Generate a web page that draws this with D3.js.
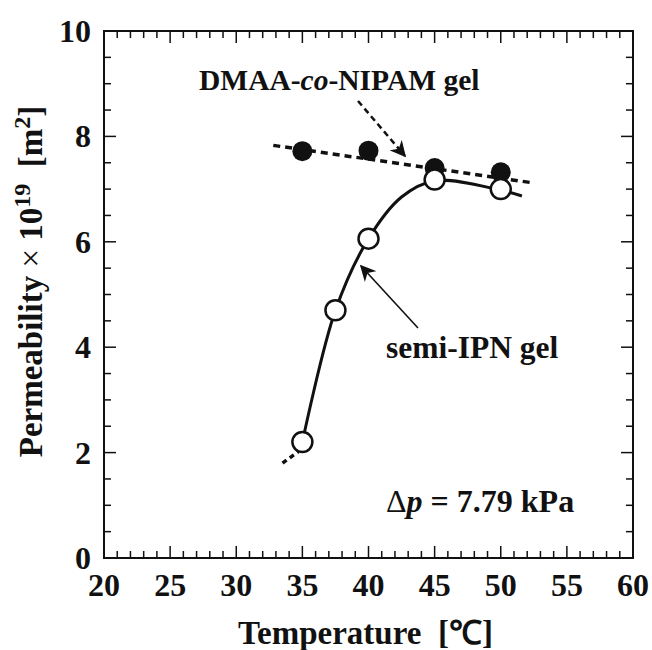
<!DOCTYPE html>
<html>
<head>
<meta charset="utf-8">
<script src="https://cdn.jsdelivr.net/npm/d3@7"></script>
<style>
  body { margin: 0; background: #fff; }
  text { font-family: "Liberation Serif", "Times New Roman", serif; font-weight: bold; fill: #111; white-space: pre; }
</style>
</head>
<body>
<div id="chart"></div>
<script>
// Data
var copolyTemp = [35, 40, 45, 50];
var copolyPerm = [7.72, 7.73, 7.40, 7.32];
var semiTemp = [35, 37.5, 40, 45, 50];
var semiPerm = [2.2, 4.7, 6.06, 7.18, 7.0];
// dashed linear fit for the copolymer gel
var fitLine = [[32.8, 7.83], [52.4, 7.12]];
// smooth guide curve for semi-IPN gel
var semiCurve = [[35, 2.2], [37.5, 4.7], [40, 6.06], [42.5, 6.85], [45, 7.16], [50, 6.98], [51.6, 6.87]];
var semiCurveTail = [[33.5, 1.8], [34.7, 2.02]];
var xTicks = [20, 25, 30, 35, 40, 45, 50, 55, 60];
var yTicks = [0, 2, 4, 6, 8, 10];

var svgWidth = 652, svgHeight = 650;
var margin = { top: 31, right: 19, bottom: 92, left: 104 };
var width = svgWidth - margin.left - margin.right;
var height = svgHeight - margin.top - margin.bottom;

var svg = d3.select("#chart").append("svg")
  .attr("width", svgWidth)
  .attr("height", svgHeight);

svg.append("defs").append("marker")
  .attr("id", "head")
  .attr("viewBox", "0 0 10 10")
  .attr("refX", 9).attr("refY", 5)
  .attr("markerWidth", 16).attr("markerHeight", 16)
  .attr("markerUnits", "userSpaceOnUse")
  .attr("orient", "auto")
  .append("path")
  .attr("d", "M0,0 L10,5 L0,10 L3,5 Z")
  .attr("fill", "#111");

var g = svg.append("g").attr("transform", `translate(${margin.left}, ${margin.top})`);

var x = d3.scaleLinear().domain([20, 60]).range([0, width]);
var y = d3.scaleLinear().domain([0, 10]).range([height, 0]);

// ticks on all four sides, pointing inward
var xMinor = d3.range(20, 61, 1);
var yMinor = d3.range(0, 10.01, 0.5);
function tickLen(v, step) { return Math.abs(v / step - Math.round(v / step)) < 1e-6 ? 12 : 7; }

g.selectAll(".xt").data(xMinor).enter().append("line")
  .attr("x1", d => x(d)).attr("x2", d => x(d))
  .attr("y1", height).attr("y2", d => height - tickLen(d, 5))
  .attr("stroke", "#111").attr("stroke-width", 1.5);
g.selectAll(".xtt").data(xMinor).enter().append("line")
  .attr("x1", d => x(d)).attr("x2", d => x(d))
  .attr("y1", 0).attr("y2", d => tickLen(d, 5))
  .attr("stroke", "#111").attr("stroke-width", 1.5);
g.selectAll(".yt").data(yMinor).enter().append("line")
  .attr("y1", d => y(d)).attr("y2", d => y(d))
  .attr("x1", 0).attr("x2", d => tickLen(d, 2))
  .attr("stroke", "#111").attr("stroke-width", 1.5);
g.selectAll(".ytr").data(yMinor).enter().append("line")
  .attr("y1", d => y(d)).attr("y2", d => y(d))
  .attr("x1", width).attr("x2", d => width - tickLen(d, 2))
  .attr("stroke", "#111").attr("stroke-width", 1.5);

g.append("rect")
  .attr("width", width).attr("height", height)
  .attr("fill", "none").attr("stroke", "#111").attr("stroke-width", 2);

// tick labels
g.selectAll(".xl").data(xTicks).enter().append("text")
  .attr("x", d => x(d)).attr("y", height + 38)
  .attr("text-anchor", "middle")
  .style("font-size", "32px")
  .text(d => d);
g.selectAll(".yl").data(yTicks).enter().append("text")
  .attr("x", -13).attr("y", d => y(d) + 11)
  .attr("text-anchor", "end")
  .style("font-size", "32px")
  .text(d => d);

// axis titles
g.append("text")
  .attr("x", width / 2 - 3).attr("y", height + 86)
  .attr("text-anchor", "middle")
  .style("font-size", "33px")
  .text("Temperature  [\u2103]");

var yTitle = g.append("text")
  .attr("transform", `translate(-62, ${height / 2 - 13}) rotate(-90)`)
  .attr("text-anchor", "middle")
  .style("font-size", "33px");
yTitle.append("tspan").text("Permeability ");
yTitle.append("tspan").style("font-weight", "normal").text("\u00d7");
yTitle.append("tspan").text(" 10");
yTitle.append("tspan").attr("dy", -12).style("font-size", "24px").text("19");
yTitle.append("tspan").attr("dy", 12).text("  [m");
yTitle.append("tspan").attr("dy", -12).style("font-size", "24px").text("2");
yTitle.append("tspan").attr("dy", 12).text("]");

// dashed fit line and filled markers
var line = d3.line().x(d => x(d[0])).y(d => y(d[1]));
g.append("path").datum(fitLine)
  .attr("d", line)
  .attr("fill", "none").attr("stroke", "#111")
  .attr("stroke-width", 3.5).attr("stroke-dasharray", "7,5");

g.selectAll(".filled").data(copolyTemp).enter().append("circle")
  .attr("cx", d => x(d)).attr("cy", (d, i) => y(copolyPerm[i]))
  .attr("r", 10).attr("fill", "#111");

// semi-IPN curve
var curve = d3.line().x(d => x(d[0])).y(d => y(d[1])).curve(d3.curveCatmullRom);
g.append("path").datum(semiCurve)
  .attr("d", curve)
  .attr("fill", "none").attr("stroke", "#111").attr("stroke-width", 3);
g.append("path").datum(semiCurveTail)
  .attr("d", line)
  .attr("fill", "none").attr("stroke", "#111")
  .attr("stroke-width", 3.5).attr("stroke-dasharray", "5,4");

g.selectAll(".open").data(semiTemp).enter().append("circle")
  .attr("cx", d => x(d)).attr("cy", (d, i) => y(semiPerm[i]))
  .attr("r", 10).attr("fill", "#fff")
  .attr("stroke", "#111").attr("stroke-width", 2.5);

// annotations
var lbl1 = svg.append("text").attr("x", 199).attr("y", 90).style("font-size", "29.5px");
lbl1.append("tspan").text("DMAA-");
lbl1.append("tspan").style("font-style", "italic").text("co");
lbl1.append("tspan").text("-NIPAM gel");

svg.append("line")
  .attr("x1", 358).attr("y1", 101).attr("x2", 405).attr("y2", 156)
  .attr("stroke", "#111").attr("stroke-width", 2.5)
  .attr("stroke-dasharray", "6,4")
  .attr("marker-end", "url(#head)");

svg.append("text").attr("x", 386).attr("y", 358).style("font-size", "31.5px").text("semi-IPN gel");
svg.append("line")
  .attr("x1", 418).attr("y1", 328).attr("x2", 361).attr("y2", 266)
  .attr("stroke", "#111").attr("stroke-width", 1.6)
  .attr("marker-end", "url(#head)");

var lbl3 = svg.append("text").attr("x", 386).attr("y", 512).style("font-size", "32px");
lbl3.append("tspan").style("font-weight", "normal").text("\u0394");
lbl3.append("tspan").style("font-style", "italic").text("p");
lbl3.append("tspan").text(" = 7.79 kPa");
</script>
</body>
</html>
